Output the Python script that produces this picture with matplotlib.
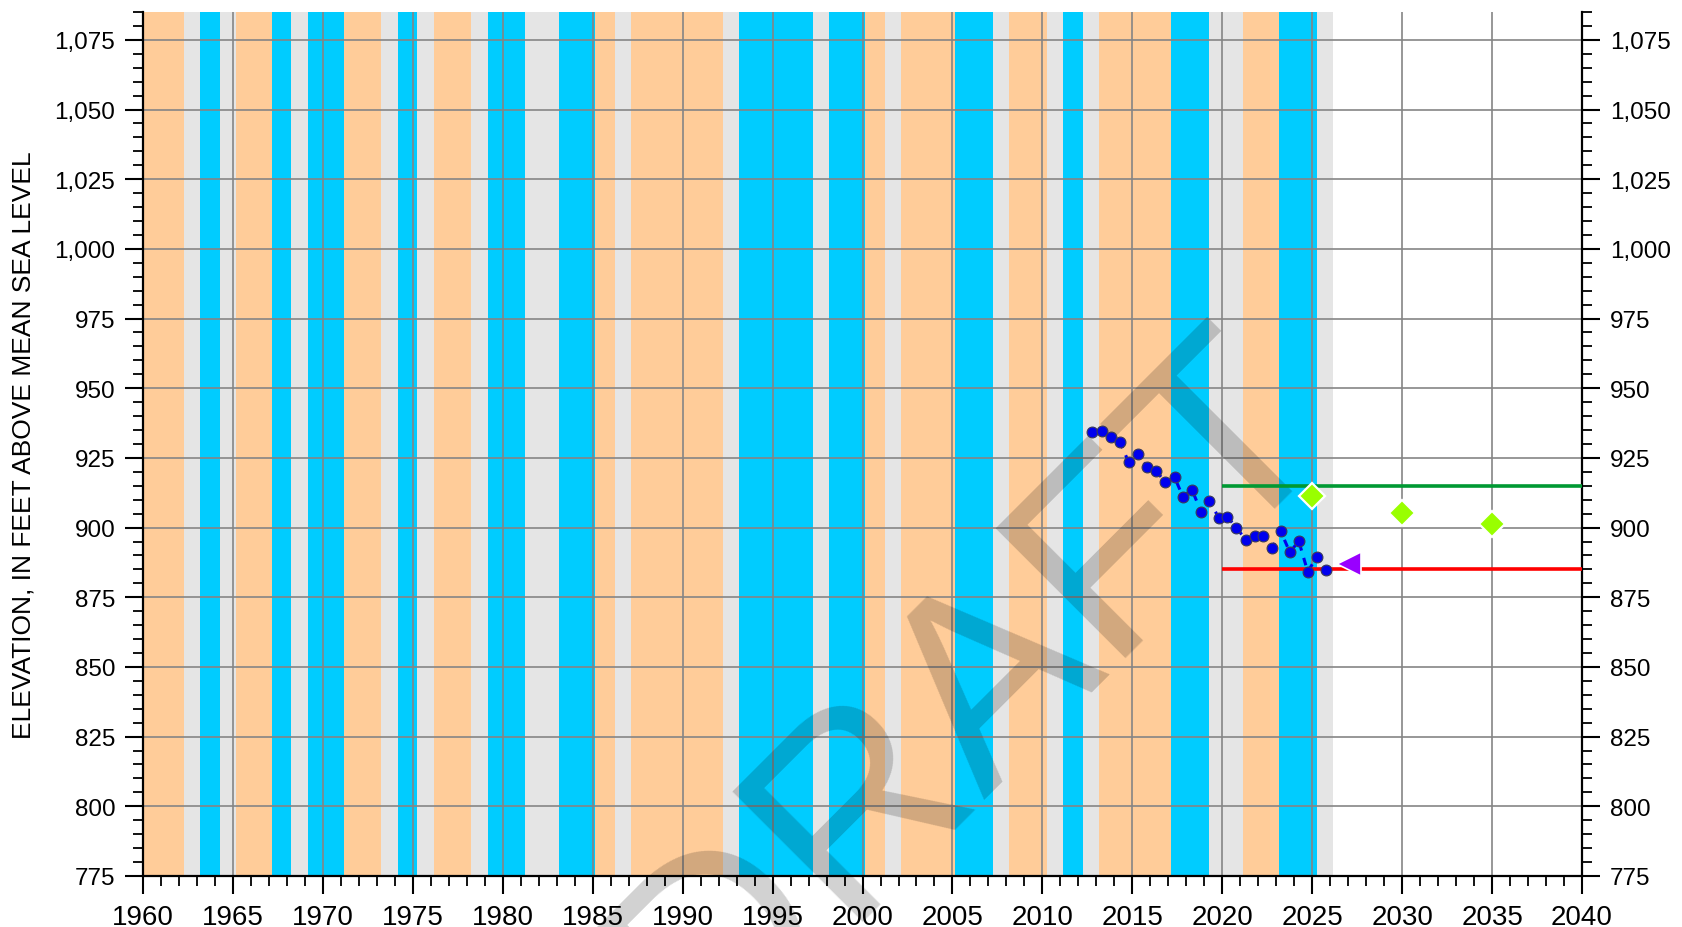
import matplotlib.pyplot as plt
from matplotlib.ticker import MultipleLocator, FuncFormatter

# Year classification runs (first year, last year, kind)
band_first = [1959, 1963, 1965, 1967, 1969, 1971, 1974, 1976, 1979, 1983, 1985, 1987,
              1993, 1998, 2000, 2002, 2005, 2008, 2011, 2013, 2017, 2021, 2023]
band_last = [1961, 1963, 1966, 1967, 1970, 1972, 1974, 1977, 1980, 1984, 1985, 1991,
             1996, 1999, 2000, 2004, 2006, 2009, 2011, 2016, 2018, 2022, 2024]
band_kind = ['dry', 'wet', 'dry', 'wet', 'wet', 'dry', 'wet', 'dry', 'wet', 'wet', 'dry', 'dry',
             'wet', 'wet', 'dry', 'dry', 'wet', 'dry', 'wet', 'dry', 'wet', 'dry', 'wet']
record_end = 2026.15

# Measured groundwater elevations
wl_year = [2012.76, 2013.30, 2013.79, 2014.31, 2014.79, 2015.29, 2015.82, 2016.34, 2016.83, 2017.35,
           2017.81, 2018.32, 2018.82, 2019.28, 2019.80, 2020.29, 2020.79, 2021.33, 2021.84, 2022.28,
           2022.78, 2023.24, 2023.76, 2024.25, 2024.75, 2025.27, 2025.75]
wl_elev = [934.3, 934.8, 932.5, 930.8, 923.5, 926.5, 921.8, 920.2, 916.3, 918.0,
           911.1, 913.5, 905.7, 909.6, 903.6, 903.9, 899.8, 895.6, 897.0, 896.9,
           892.6, 898.8, 891.1, 895.2, 884.2, 889.6, 884.9]

# Interim milestones, current level, thresholds
target_year = [2025, 2030, 2035]
target_elev = [911.2, 905.1, 901.3]
current_year = [2027.05]
current_elev = [887.0]
objective_elev = 914.8
threshold_elev = 885.0
threshold_start = 2020

band_colors = {'dry': '#FFCC99', 'wet': '#00CCFF'}

fig = plt.figure(figsize=(16.83, 9.28), dpi=100)
ax = fig.add_axes([0.085, 0.055, 0.855, 0.931])

ax.axvspan(band_first[0], record_end, color='#E5E5E5', lw=0, zorder=0)
for f, l, k in zip(band_first, band_last, band_kind):
    ax.axvspan(f + 0.15, l + 1.25, color=band_colors[k], lw=0, zorder=0.5)

ax.grid(True, which='major', color='#858585', lw=1.2)

ax.hlines(objective_elev, threshold_start, 2040, color='#009933', lw=2.6, zorder=3)
ax.hlines(threshold_elev, threshold_start, 2040, color='#FF0000', lw=2.6, zorder=3)

ax.plot(wl_year, wl_elev, color='#0000EE', lw=2.2, ls=(0, (2.5, 2.5)), zorder=4)
ax.plot(wl_year, wl_elev, 'o', ms=7.8, mfc='#0000EE', mec='#3a3a5a', mew=0.8, zorder=5)

ax.plot(target_year, target_elev, 'D', ms=13.5, mfc='#99FF00', mec='white', mew=1.6, zorder=6)
ax.plot(current_year, current_elev, '<', ms=17, mfc='#9900FF', mec='white', mew=1.2, zorder=6)

ax.set_xlim(1960, 2040)
ax.set_ylim(775, 1085)
ax.xaxis.set_major_locator(MultipleLocator(5))
ax.xaxis.set_minor_locator(MultipleLocator(1))
ax.yaxis.set_major_locator(MultipleLocator(25))
ax.yaxis.set_minor_locator(MultipleLocator(5))
ax.yaxis.set_major_formatter(FuncFormatter(lambda v, p: f'{v:,.0f}'))

ax.spines['top'].set_visible(False)
for s in ['left', 'right', 'bottom']:
    ax.spines[s].set_linewidth(1.6)

ax.tick_params(axis='both', which='major', direction='out', length=13, width=1.5, color='black')
ax.tick_params(axis='both', which='minor', direction='out', length=7.5, width=1.3, color='black')
ax.tick_params(axis='y', which='both', left=True, right=True, labelleft=True, labelright=True)
ax.tick_params(axis='y', which='major', labelsize=17.5, pad=7)
ax.tick_params(axis='x', which='major', labelsize=20, pad=7)
for lab in ax.get_xticklabels() + ax.get_yticklabels():
    lab.set_family('Liberation Sans')

fig.text(0.014, 0.52, 'ELEVATION, IN FEET ABOVE MEAN SEA LEVEL', rotation=90,
         ha='center', va='center', fontsize=19, family='Liberation Sans')

ax.text(0.6064, 0.1994, 'DRAFT', transform=fig.transFigure, rotation=45,
        rotation_mode='anchor', ha='center', va='baseline', fontsize=193,
        family='Liberation Sans', color='black', alpha=0.18, zorder=2, clip_on=False)

plt.savefig('out.png', dpi=100)
